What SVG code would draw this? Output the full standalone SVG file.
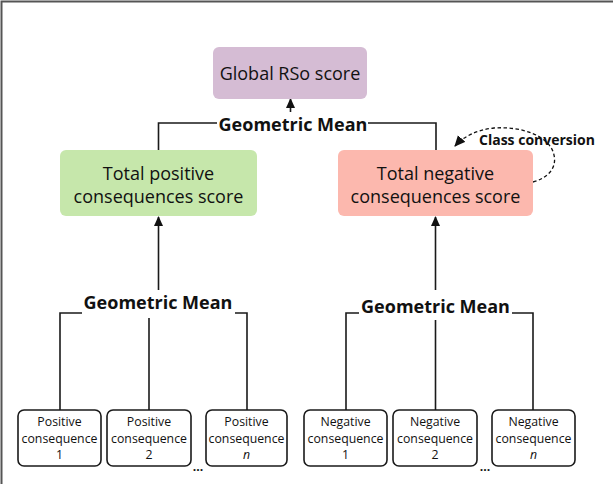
<svg xmlns="http://www.w3.org/2000/svg" width="613" height="484" viewBox="0 0 613 484">
<defs>
<style>
.ln{fill:none;stroke:#1a1a1a;stroke-width:1.6}
.big{font-family:"Open Sans","Noto Sans",sans-serif;font-size:18px;fill:#111;text-anchor:middle}
.gm{font-family:"Open Sans","Noto Sans",sans-serif;font-size:18px;font-weight:bold;fill:#111;text-anchor:middle}
.sm{font-family:"Open Sans","Noto Sans",sans-serif;font-size:12.3px;fill:#111;text-anchor:middle}
.leaf{fill:#fff;stroke:#1a1a1a;stroke-width:1.6}
</style>
<marker id="ah" markerUnits="userSpaceOnUse" markerWidth="10" markerHeight="12" refX="9" refY="4.5" orient="auto">
<path d="M0,0 L10,4.5 L0,9 Z" fill="#111"/>
</marker>
<marker id="ah2" markerUnits="userSpaceOnUse" markerWidth="12" markerHeight="12" refX="10" refY="5" orient="auto">
<path d="M0,0 L11,5 L0,10 Z" fill="#111"/>
</marker>
</defs>
<rect width="613" height="484" fill="#fff"/>
<path d="M1.5,484 V1.5 H613" fill="none" stroke="#555" stroke-width="2"/>

<g id="connectors">
<path class="ln" d="M158.5,150 V123 H217"/>
<path class="ln" d="M368,123 H436 V150"/>
<line class="ln" x1="290.5" y1="112" x2="290.5" y2="99" marker-end="url(#ah)"/>
<line class="ln" x1="158.5" y1="290" x2="158.5" y2="217" marker-end="url(#ah)"/>
<line class="ln" x1="435.5" y1="290" x2="435.5" y2="217" marker-end="url(#ah)"/>
<path class="ln" d="M60,410 V313 H82"/>
<path class="ln" d="M235,313 H247 V410"/>
<line class="ln" x1="149" y1="318" x2="149" y2="410"/>
<path class="ln" d="M346,410 V313 H359"/>
<path class="ln" d="M512,313 H533 V410"/>
<line class="ln" x1="435.5" y1="320" x2="435.5" y2="410"/>
<path d="M533,182 C548,178 557,168 554,155 C550,136 522,126 494,128 C476,130 463,137 455,146" fill="none" stroke="#111" stroke-width="1.3" stroke-dasharray="3.5,2.5" marker-end="url(#ah2)"/>
</g>

<g id="gm-top"><text class="gm" x="293" y="131">Geometric Mean</text></g>
<g id="gm-left"><text class="gm" x="158" y="309">Geometric Mean</text></g>
<g id="gm-right"><text class="gm" x="435.5" y="313">Geometric Mean</text></g>
<g id="class-conversion"><text x="479" y="145" font-family="'Open Sans','Noto Sans',sans-serif" font-size="14" font-weight="bold" fill="#111">Class conversion</text></g>

<g id="global">
<rect x="213" y="47" width="154" height="52" rx="6" fill="#d5bcd4"/>
<text class="big" x="290" y="80">Global RSo score</text>
</g>
<g id="total-positive">
<rect x="60" y="150" width="197" height="66" rx="6" fill="#c6e7ab"/>
<text class="big" x="158.5" y="180">Total positive</text>
<text class="big" x="158.5" y="203">consequences score</text>
</g>
<g id="total-negative">
<rect x="338" y="150" width="195" height="66" rx="6" fill="#fcb8ae"/>
<text class="big" x="435.5" y="180">Total negative</text>
<text class="big" x="435.5" y="203">consequences score</text>
</g>

<g id="pos1"><rect class="leaf" x="18" y="410" width="83" height="56" rx="6"/>
<text class="sm" x="59.5" y="426">Positive</text><text class="sm" x="59.5" y="442.5">consequence</text><text class="sm" x="59.5" y="459">1</text></g>
<g id="pos2"><rect class="leaf" x="107" y="410" width="84" height="56" rx="6"/>
<text class="sm" x="149" y="426">Positive</text><text class="sm" x="149" y="442.5">consequence</text><text class="sm" x="149" y="459">2</text></g>
<g id="posn"><rect class="leaf" x="206" y="410" width="81" height="56" rx="6"/>
<text class="sm" x="246.5" y="426">Positive</text><text class="sm" x="246.5" y="442.5">consequence</text><text class="sm" x="246.5" y="459" font-style="italic">n</text></g>
<g id="neg1"><rect class="leaf" x="304" y="410" width="83" height="56" rx="6"/>
<text class="sm" x="345.5" y="426">Negative</text><text class="sm" x="345.5" y="442.5">consequence</text><text class="sm" x="345.5" y="459">1</text></g>
<g id="neg2"><rect class="leaf" x="393" y="410" width="84" height="56" rx="6"/>
<text class="sm" x="435" y="426">Negative</text><text class="sm" x="435" y="442.5">consequence</text><text class="sm" x="435" y="459">2</text></g>
<g id="negn"><rect class="leaf" x="492" y="410" width="83" height="56" rx="6"/>
<text class="sm" x="533.5" y="426">Negative</text><text class="sm" x="533.5" y="442.5">consequence</text><text class="sm" x="533.5" y="459" font-style="italic">n</text></g>

<g id="dots1"><text class="sm" x="198" y="471" font-weight="bold" font-size="10">...</text></g>
<g id="dots2"><text class="sm" x="485" y="471" font-weight="bold" font-size="10">...</text></g>
</svg>
